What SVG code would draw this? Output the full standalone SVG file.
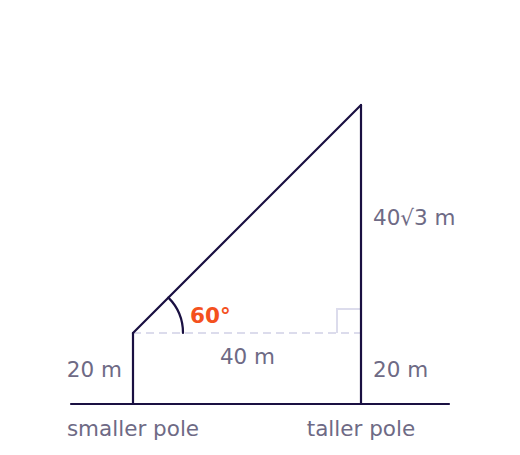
<svg xmlns="http://www.w3.org/2000/svg" width="520" height="455" viewBox="0 0 520 455">
<style>
.ln{stroke:#1a1042;stroke-width:2.2;fill:none;stroke-linecap:round}
.aux{stroke:#dcdcec;stroke-width:2;fill:none}
.lbl{font-family:"DejaVu Sans",sans-serif;font-size:21.5px;fill:#6e6a85}
.ang{font-family:"DejaVu Sans",sans-serif;font-size:21.5px;font-weight:bold;fill:#f4511e}
</style>
<rect width="520" height="455" fill="#ffffff"/>
<g id="connectors">
<line class="aux" x1="133" y1="333" x2="361" y2="333" stroke-dasharray="8,5"/>
<polyline class="aux" points="337,333 337,309 361,309"/>
<line class="ln" x1="71" y1="404" x2="449" y2="404"/>
<line class="ln" x1="133" y1="404" x2="133" y2="333"/>
<line class="ln" x1="361" y1="404" x2="361" y2="105"/>
<line class="ln" x1="133" y1="333" x2="361" y2="105"/>
<path class="ln" d="M183,333 A50,50 0 0 0 168.4,297.6"/>
</g>
<g id="smaller-pole">
<text class="lbl" x="133" y="436" text-anchor="middle">smaller pole</text>
<text class="lbl" x="122" y="377" text-anchor="end">20 m</text>
</g>
<g id="taller-pole">
<text class="lbl" x="361" y="436" text-anchor="middle">taller pole</text>
<text class="lbl" x="373" y="377">20 m</text>
<text class="lbl" x="373" y="225">40√3 m</text>
</g>
<g id="distance">
<text class="lbl" x="247.5" y="364" text-anchor="middle">40 m</text>
</g>
<g id="angle">
<text class="ang" x="190" y="323">60°</text>
</g>
</svg>
